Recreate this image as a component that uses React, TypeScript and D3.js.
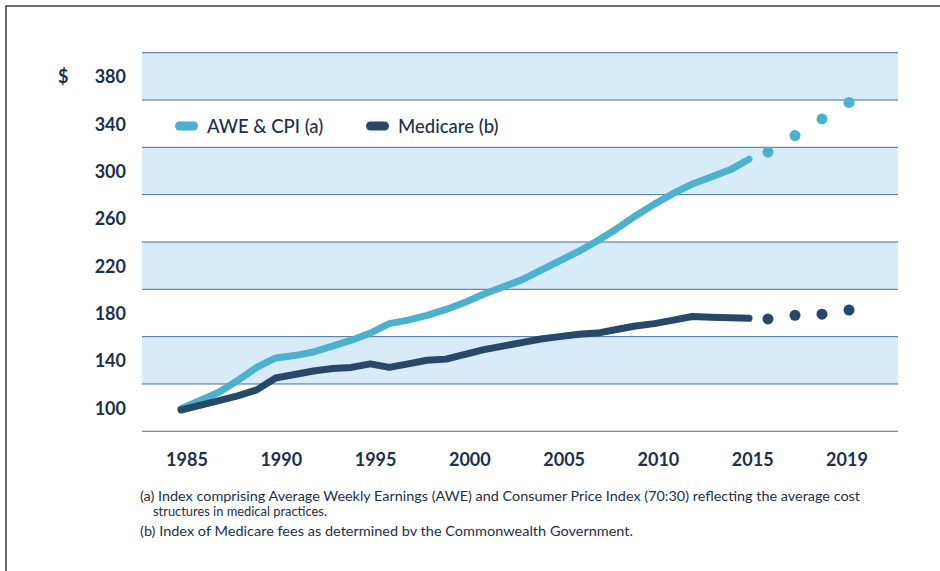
import React, { useEffect } from "react";
import * as d3 from "d3";

const years = d3.range(1985, 2016);
const aweValues = [
  99, 106, 113, 123, 134, 142, 144, 147, 152, 157, 163, 171, 174, 178, 183,
  189, 196, 202, 208, 216, 224, 232, 241, 251, 262, 272, 281, 289, 295, 301,
  310,
];
const medicareValues = [
  98, 102, 106, 110, 115, 125, 128, 131, 133, 134, 137, 134, 137, 140, 141,
  145, 149, 152, 155, 158, 160, 162, 163, 166, 169, 171, 174, 177, 176.5, 176,
  175.5,
];
const projYears = [2016, 2017, 2018, 2019];
const aweProjected = [316, 330, 344, 358];
const medicareProjected = [175, 178, 179, 182.5];

const yTicks = [100, 140, 180, 220, 260, 300, 340, 380];
const xTickLabels = ["1985", "1990", "1995", "2000", "2005", "2010", "2015", "2019"];
const bandStarts = [80, 120, 160, 200, 240, 280, 320, 360];

const footnotes = [
  "(a) Index comprising Average Weekly Earnings (AWE) and Consumer Price Index (70:30) reflecting the average cost",
  "structures in medical practices.",
  "(b) Index of Medicare fees as determined bv the Commonwealth Government.",
];

const W = 940;
const H = 571;
const plotLeft = 142;
const plotRight = 898;

const AWE_COLOR = "#4cb1cd";
const MED_COLOR = "#274869";
const TEXT = "#1d3049";
const GRID = "#4a6c9c";
const BAND = "#d8ebf8";

export default function App() {
  useEffect(() => {
    document.body.style.margin = "0";
  }, []);

  const y = d3.scaleLinear().domain([80, 400]).range([431.3, 52.7]);
  // the projection years are spread wider than the history
  const x = d3
    .scaleLinear()
    .domain([1985, 2015, 2016, 2019])
    .range([181, 749, 768, 849]);
  const xLabel = d3
    .scalePoint<string>()
    .domain(xTickLabels)
    .range([187, 847]);

  const line = d3
    .line<number>()
    .x((_, i) => x(years[i]))
    .y((d) => y(d))
    .curve(d3.curveLinear);

  const font = "Lato, 'Open Sans', sans-serif";
  // footnote layout: [x, baseline, width]
  const noteLayout = [
    [140, 501, 720],
    [153, 516, 174],
    [140, 536, 493],
  ];

  return (
    <svg width={W} height={H} style={{ display: "block", background: "#fff" }}>
      <path
        d={`M6,${H} L6,6 L${W},6`}
        fill="none"
        stroke="#3a3a3a"
        strokeWidth={1.5}
      />

      {bandStarts.map((b, i) => (
        <rect
          key={b}
          x={plotLeft}
          width={plotRight - plotLeft}
          y={y(b + 40)}
          height={y(b) - y(b + 40)}
          fill={i % 2 === 1 ? BAND : "#fff"}
        />
      ))}
      {[...bandStarts, 400].map((g) => (
        <line
          key={g}
          x1={plotLeft}
          x2={plotRight}
          y1={y(g)}
          y2={y(g)}
          stroke={GRID}
          strokeWidth={1}
        />
      ))}

      <g fontFamily={font} fontWeight={700} fontSize={18} fill={TEXT}>
        {yTicks.map((t) => (
          <text key={t} x={126} y={y(t)} textAnchor="end" dominantBaseline="central">
            {t}
          </text>
        ))}
        <text x={58} y={y(380)} dominantBaseline="central">
          $
        </text>
        {xTickLabels.map((t) => (
          <text key={t} x={xLabel(t)} y={459} textAnchor="middle" dominantBaseline="central">
            {t}
          </text>
        ))}
      </g>

      <path
        d={line(aweValues) || ""}
        fill="none"
        stroke={AWE_COLOR}
        strokeWidth={7}
        strokeLinecap="round"
        strokeLinejoin="round"
      />
      <path
        d={line(medicareValues) || ""}
        fill="none"
        stroke={MED_COLOR}
        strokeWidth={7}
        strokeLinecap="round"
        strokeLinejoin="round"
      />
      {projYears.map((yr, i) => (
        <g key={yr}>
          <circle cx={x(yr)} cy={y(aweProjected[i])} r={5.5} fill={AWE_COLOR} />
          <circle cx={x(yr)} cy={y(medicareProjected[i])} r={5.5} fill={MED_COLOR} />
        </g>
      ))}

      <g fontFamily={font} fontSize={18.5} fontWeight={500} fill={TEXT}>
        <rect x={175} y={121.5} width={23} height={9} rx={4.5} fill={AWE_COLOR} />
        <text x={207} y={126} dominantBaseline="central">
          AWE &amp; CPI (a)
        </text>
        <rect x={366} y={121.5} width={23} height={9} rx={4.5} fill={MED_COLOR} />
        <text x={398} y={126} dominantBaseline="central">
          Medicare (b)
        </text>
      </g>

      <g fontFamily={font} fontSize={13.5} fill={TEXT}>
        {footnotes.map((f, i) => (
          <text
            key={i}
            x={noteLayout[i][0]}
            y={noteLayout[i][1]}
            textLength={noteLayout[i][2]}
            lengthAdjust="spacingAndGlyphs"
          >
            {f}
          </text>
        ))}
      </g>
    </svg>
  );
}
